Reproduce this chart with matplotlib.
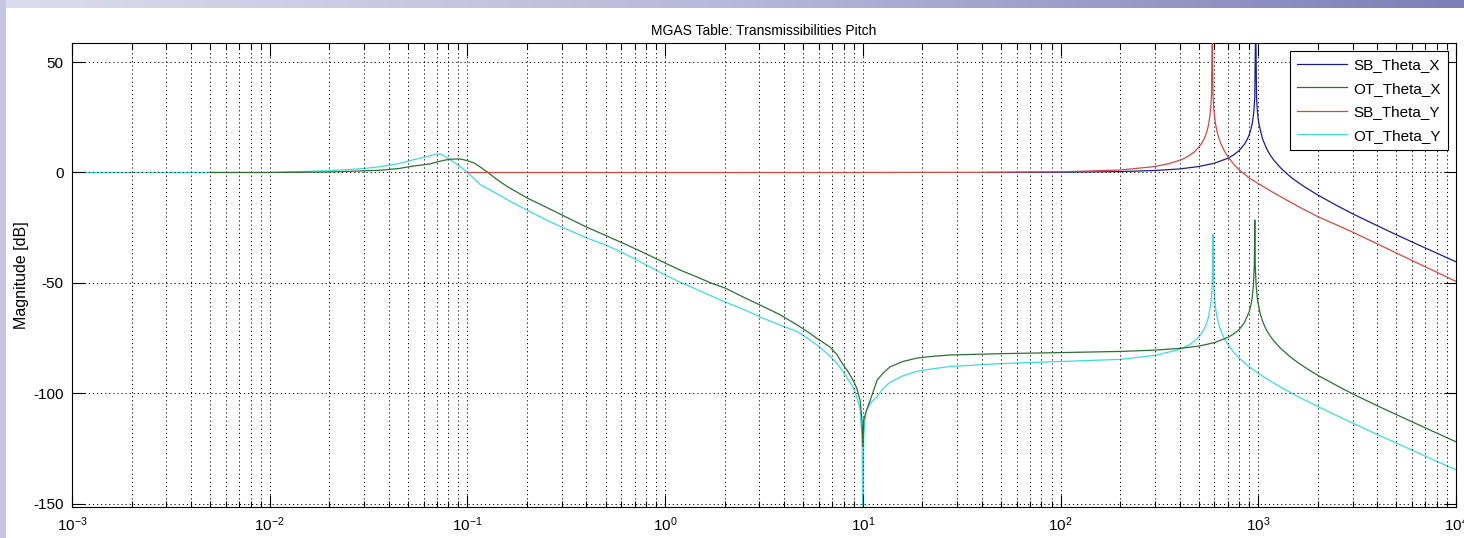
import numpy as np
import matplotlib
import matplotlib.pyplot as plt
from matplotlib.patches import Rectangle

matplotlib.use("Agg")

# frequencies [Hz] and magnitudes [dB]
sb_x_freq = [42, 100, 200, 300, 400, 500, 600, 700, 750, 800, 850, 875, 900, 915, 930, 940,
             950, 960, 970, 980, 990, 1000, 1010, 1050, 1100, 1150, 1200, 1300, 1400, 1500,
             1700, 2000, 2500, 3000, 4000, 5000, 7000, 10000]
sb_x_db = [0, 0.1, 0.4, 0.9, 1.6, 2.7, 4.2, 6.4, 7.9, 9.9, 12.7, 14.6, 17.1, 19.2, 21.8, 24.3,
           27.8, 33.9, 70, 33.7, 27.6, 24.0, 21.5, 15.3, 10.9, 7.8, 5.5, 2.0, -0.7, -2.9,
           -6.3, -10.2, -15.0, -18.7, -24.1, -28.2, -34.2, -40.4]

ot_x_freq = [0.005, 0.01, 0.02, 0.036, 0.045, 0.053, 0.06, 0.0647, 0.07, 0.076, 0.082, 0.0885,
             0.092, 0.0995, 0.108, 0.116, 0.127, 0.141, 0.16, 0.2, 0.25, 0.3, 0.4, 0.5, 0.612,
             0.8, 1.0, 1.2, 1.45, 1.7, 2.01, 2.5, 3.02, 3.8, 4.65, 5.3, 5.9, 6.83, 7.4, 7.94,
             8.4, 8.92, 9.3, 9.68, 9.9, 10.0, 10.1, 10.25, 10.4, 10.6, 10.9, 11.3, 11.8, 12.6,
             13.7, 16, 18.8, 22, 27.6, 50, 88.5, 200, 300, 400, 500, 600, 700, 750, 800, 850,
             900, 920, 930, 945, 955, 960, 965, 975, 990, 1020, 1040, 1060, 1100, 1150, 1200,
             1300, 1450, 1600, 1800, 2000, 2500, 3000, 4000, 5000, 7000, 10000]
ot_x_db = [0, 0, 0.2, 1.0, 1.8, 2.9, 3.5, 3.9, 4.7, 5.5, 6.0, 6.1,
           6.1, 5.4, 4.3, 2.5, 0, -3.2, -6.5, -11.5, -15.7, -19.2, -24.7, -28.5, -32,
           -36.8, -41, -44.3, -47.3, -50.0, -52.3, -56.5, -60, -64.3, -69, -72.3, -75.3, -79, -82.5, -87,
           -90, -94, -97.5, -103, -112, -124, -112, -110, -108, -106, -103, -99, -94, -91,
           -88, -85.5, -84, -83.3, -82.6, -82, -81.6, -81, -80.4, -79.6, -78.6, -77, -74.7, -73.1, -71.1, -68,
           -63, -59.6, -57, -51, -41.6, -21.5, -41.7, -51, -57.4, -63.5, -66.1, -68.1, -71.4, -74.1, -76.3,
           -79.7, -83.4, -86.3, -89.3, -91.8, -96.5, -100.2, -105.6, -109.6, -115.6, -121.9]

sb_y_freq = [0.1, 1, 10, 50, 100, 200, 300, 350, 400, 425, 450, 475, 500, 515, 530, 540, 550,
             558, 565, 575, 580, 585, 590, 595, 605, 610, 620, 630, 650, 675, 700, 750, 800,
             900, 1000, 1150, 1300, 1600, 2000, 2500, 3000, 4000, 5000, 7000, 10000]
sb_y_db = [0, 0, 0, 0.1, 0.3, 1.1, 2.7, 3.9, 5.5, 6.5, 7.8, 9.3, 11.4, 13.0, 14.9, 16.6, 18.7,
           20.9, 23.5, 29.4, 35.4, 70, 35.4, 29.2, 23.2, 21.2, 18.2, 15.9, 12.6, 9.6, 7.3, 3.8, 1.2,
           -2.5, -5.0, -8.3, -11.0, -15.5, -20.0, -23.8, -27.0, -32.3, -36.5, -42.7, -49.3]

ot_y_freq = [0.001, 0.005, 0.01, 0.02, 0.03, 0.036, 0.045, 0.053, 0.06, 0.0647, 0.068, 0.07,
             0.0726, 0.076, 0.08, 0.0866, 0.093, 0.1, 0.108, 0.116, 0.141, 0.16, 0.2, 0.25, 0.3,
             0.4, 0.5, 0.612, 0.8, 1.0, 1.2, 1.45, 1.7, 2.01, 2.5, 3.02, 3.8, 4.65, 5.3, 5.9,
             6.8, 7.4, 7.94, 8.4, 8.92, 9.3, 9.68, 9.9, 10.0, 10.1, 10.25, 10.4, 10.7, 11.0, 11.8,
             12.6, 13.7, 16, 18.8, 22, 27.6, 50, 88.5, 200, 300, 400, 450, 490, 510, 526, 545,
             560, 575, 583, 588, 590, 592, 597, 605, 610, 620, 635, 650, 675, 700, 750, 800,
             900, 1000, 1150, 1300, 1627, 2000, 2500, 3000, 4000, 5000, 7000, 10000]
ot_y_db = [0, 0, 0, 0.8, 1.8, 2.6, 4.0, 5.7, 6.8, 7.6, 8.1, 8.3,
           8.4, 7.6, 6.3, 4.3, 2.3, 0, -2.8, -5.5, -9.6, -12.5, -17, -21.5, -24.7,
           -29.6, -32.8, -36.4, -41.8, -46.4, -49.8, -53, -55.8, -58.6, -62.0, -65.4, -69.0, -72, -75.3, -78.3,
           -83, -86.5, -90, -93.5, -97, -101.5, -107, -120, -160, -120, -112, -108, -106, -104, -101.5,
           -98, -95, -92, -90, -89, -87.8, -86.5, -85.7, -84.6, -82.8, -80.1, -77.9, -75.3, -73.5, -71.7, -68.8,
           -65.4, -59.5, -53.1, -42.1, -28, -42.1, -53.1, -59.7, -62.3, -65.9, -69.5, -72.1, -75.3, -77.7, -81.3, -84,
           -88, -90.9, -94.4, -97.2, -101.9, -105.9, -110.1, -113.4, -118.6, -122.5, -128.4, -134.6]

series = [
    ("SB_Theta_X", sb_x_freq, sb_x_db, "#1c1c8c", 2),
    ("OT_Theta_X", ot_x_freq, ot_x_db, "#2e6e36", 3),
    ("SB_Theta_Y", sb_y_freq, sb_y_db, "#d04848", 4),
    ("OT_Theta_Y", ot_y_freq, ot_y_db, "#40dada", 1.5),
]

plt.rcParams["font.family"] = ["Liberation Sans", "DejaVu Sans"]
plt.rcParams["mathtext.fontset"] = "custom"
plt.rcParams["mathtext.rm"] = "Liberation Sans"

W, H = 1464, 538
fig = plt.figure(figsize=(W / 100, H / 100), dpi=100)
fig.patch.set_facecolor("white")

# slide border: gradient strip on top, plain strip on the left
bg = fig.add_axes([0, 0, 1, 1], zorder=-5)
bg.set_xlim(0, W)
bg.set_ylim(H, 0)
bg.axis("off")
grad = np.linspace(0, 1, 256).reshape(1, -1)
cmap = matplotlib.colors.LinearSegmentedColormap.from_list("strip", ["#dcdcec", "#b8b8d8", "#7c80b8"])
bg.imshow(grad, extent=[0, W, 8, 0], aspect="auto", cmap=cmap)
bg.add_patch(Rectangle((0, 0), 6, H, color="#c6c6e0", lw=0))

ax = fig.add_axes([72 / W, 1 - 507 / H, (1456 - 72) / W, (507 - 43) / H])
for label, freq, db, color, z in series:
    ax.semilogx(freq, db, color=color, lw=0.9, label=label, zorder=z)

ax.set_xlim(1e-3, 1e4)
ax.set_ylim(-151.4, 58.6)
ax.set_yticks([-150, -100, -50, 0, 50])
ax.set_yticklabels(["-150", "-100", "-50", "0", "50"])

ax.grid(True, which="major", color="k", lw=0.7, linestyle=(0, (1.2, 3)))
ax.grid(True, which="minor", axis="x", color="k", lw=0.7, linestyle=(0, (1.2, 3)))
ax.tick_params(which="both", direction="in", top=True, right=True, labelsize=11, colors="k", pad=6)
ax.tick_params(which="major", length=9, width=0.8)
ax.tick_params(which="minor", length=4, width=0.8)
for sp in ax.spines.values():
    sp.set_linewidth(0.8)

ax.set_ylabel("Magnitude [dB]", fontsize=11.5, labelpad=3)
ax.set_title("MGAS Table: Transmissibilities Pitch", fontsize=10, pad=6)

leg = ax.legend(loc="upper right", fontsize=11, fancybox=False, framealpha=1,
                edgecolor="k", handlelength=3.3, handletextpad=0.4, labelspacing=0.62,
                borderpad=0.45, borderaxespad=0.55)
leg.get_frame().set_linewidth(0.8)

fig.savefig("out.png", dpi=100)
